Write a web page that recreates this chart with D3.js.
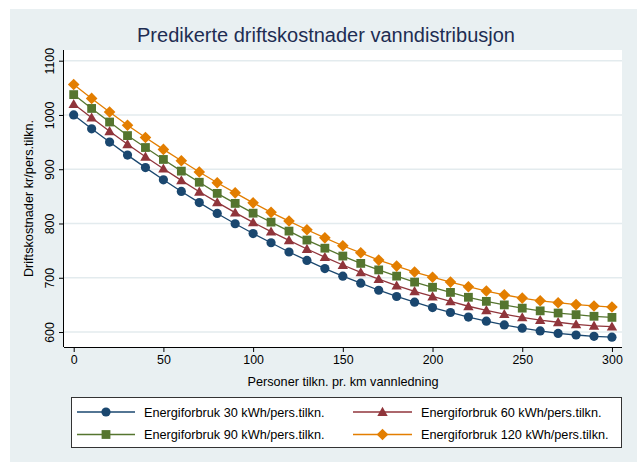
<!DOCTYPE html>
<html><head><meta charset="utf-8">
<script src="https://cdn.jsdelivr.net/npm/d3@7"></script>
<style>
html,body{margin:0;padding:0;background:#fff;}
svg{display:block;font-family:"Liberation Sans",Arial,Helvetica,sans-serif;}
</style></head>
<body>
<svg id="chart" width="637" height="462"></svg>
<script>
const xValues = [0,10,20,30,40,50,60,70,80,90,100,110,120,130,140,150,160,170,180,190,200,210,220,230,240,250,260,270,280,290,300];
const s30  = [1000,974.5,950,926,903,880.5,859,838.5,818.5,799.5,781.5,764.5,747.5,732,717,703,690,677,665.5,655,645,636,627.5,620,613,607,602,597.5,594.5,592,590.5];
const s60  = [1020,995,970,946,923,901,879.5,858.5,839,820,802,785,769,753,738,723.5,710,697.5,685.5,675,665.5,656.5,647.5,640,633,627,622,618,614,611.5,610];
const s90  = [1037.5,1012,987,962,940,918,896.5,876,855.5,837,819,802.5,786,769.5,754.5,740,726.5,714.5,703,692,682.5,673,664,656.5,650,644,639,635,632,629,627];
const s120 = [1056,1030.5,1005.5,981,958.5,936.5,915.5,895,875,856.5,838,820.5,804.5,788.5,773.5,759,746,732.5,721.5,710.5,701,692,683.5,675.5,668.5,662.5,657.5,654,650.5,648,646];
const seriesNames = ["Energiforbruk 30 kWh/pers.tilkn.","Energiforbruk 60 kWh/pers.tilkn.","Energiforbruk 90 kWh/pers.tilkn.","Energiforbruk 120 kWh/pers.tilkn."];
const xTicks = [0,50,100,150,200,250,300];
const yTicks = [600,700,800,900,1000,1100];
const titleText = "Predikerte driftskostnader vanndistribusjon";
const xTitle = "Personer tilkn. pr. km vannledning";
const yTitle = "Driftskostnader kr/pers.tilkn.";

const colors = ["#1a476f","#90353b","#55752f","#e37e00"];
const shapes = ["circle","triangle","square","diamond"];
const seriesData = [s30,s60,s90,s120];

const svg = d3.select("#chart");
const bg = "#e9f0f2";
svg.append("rect").attr("x",10).attr("y",9).attr("width",627).attr("height",453).attr("fill",bg);

const plot = {l:64, r:622, t:50, b:347};
svg.append("rect").attr("x",plot.l).attr("y",plot.t).attr("width",plot.r-plot.l).attr("height",plot.b-plot.t).attr("fill","#fff");

const x = d3.scaleLinear().domain([-5.4,305.6]).range([plot.l,plot.r]);
const y = d3.scaleLinear().domain([572.4,1119.7]).range([plot.b,plot.t]);

// gridlines
svg.append("g").selectAll("line").data(yTicks).join("line")
  .attr("x1",plot.l).attr("x2",plot.r)
  .attr("y1",d=>y(d)).attr("y2",d=>y(d))
  .attr("stroke","#e3ebee").attr("stroke-width",1.5);

const tickFont = 12.4, labFont = 12.7;

// axes
const xAxis = d3.axisBottom(x).tickValues(xTicks).tickFormat(d3.format("d")).tickSize(5).tickPadding(3);
const gx = svg.append("g").attr("transform",`translate(0,${plot.b})`).call(xAxis);
gx.select(".domain").attr("d",`M${plot.l},0.5H${plot.r}`).attr("stroke","#000");
gx.selectAll("text").attr("font-size",tickFont).attr("font-family","Liberation Sans, Arial, sans-serif").attr("fill","#000");

const yAxis = d3.axisLeft(y).tickValues(yTicks).tickFormat(d3.format("d")).tickSize(5).tickPadding(3);
const gy = svg.append("g").attr("transform",`translate(${plot.l},0)`).call(yAxis);
gy.select(".domain").attr("d",`M-0.5,${plot.t}V${plot.b}`).attr("stroke","#000");
gy.selectAll("text")
  .attr("font-size",tickFont).attr("font-family","Liberation Sans, Arial, sans-serif").attr("fill","#000")
  .attr("x",0).attr("y",0).attr("dy",null)
  .attr("text-anchor","middle")
  .attr("transform","translate(-10.5,0) rotate(-90)");

// titles
svg.append("text").attr("x",326).attr("y",42).attr("text-anchor","middle")
  .attr("font-size",20).attr("fill","#1e2d52").text(titleText);
svg.append("text").attr("x",(plot.l+plot.r)/2).attr("y",386).attr("text-anchor","middle")
  .attr("font-size",labFont).attr("fill","#000").text(xTitle);
svg.append("text").attr("transform",`translate(33,${(plot.t+plot.b)/2}) rotate(-90)`).attr("text-anchor","middle")
  .attr("font-size",labFont).attr("fill","#000").text(yTitle);

function markerPath(shape){
  if(shape==="circle") return d3.symbol(d3.symbolCircle, Math.PI*4.6*4.6)();
  if(shape==="square"){const h=4.4;return `M${-h},${-h}H${h}V${h}H${-h}Z`;}
  if(shape==="triangle"){const w=5.2,t=5.2,b=3.9;return `M0,${-t}L${w},${b}L${-w},${b}Z`;}
  if(shape==="diamond"){const h=5.8;return `M0,${-h}L${h},0L0,${h}L${-h},0Z`;}
}

const line = d3.line().x((d,i)=>x(xValues[i])).y(d=>y(d));
seriesData.forEach((vals,si)=>{
  const g = svg.append("g");
  g.append("path").attr("d",line(vals)).attr("fill","none").attr("stroke",colors[si]).attr("stroke-width",1.3);
  g.selectAll("path.m").data(vals).join("path").attr("class","m")
    .attr("transform",(d,i)=>`translate(${x(xValues[i])},${y(d)})`)
    .attr("d",markerPath(shapes[si])).attr("fill",colors[si]);
});

// legend
const lg = svg.append("g");
lg.append("rect").attr("x",71.5).attr("y",397.5).attr("width",550).attr("height",50).attr("fill","#fff").attr("stroke","#333").attr("stroke-width",1);
const cols = [{l0:77,l1:135,tx:144},{l0:353,l1:412,tx:421}];
const rows = [412,434.5];
const order = [0,1,2,3];
order.forEach((si,k)=>{
  const c = cols[k%2], ry = rows[Math.floor(k/2)];
  lg.append("line").attr("x1",c.l0).attr("x2",c.l1).attr("y1",ry).attr("y2",ry).attr("stroke",colors[si]).attr("stroke-width",1.3);
  lg.append("path").attr("transform",`translate(${(c.l0+c.l1)/2},${ry})`).attr("d",markerPath(shapes[si])).attr("fill",colors[si]);
  lg.append("text").attr("x",c.tx).attr("y",ry+4.5).attr("font-size",labFont).attr("fill","#000").text(seriesNames[si]);
});
</script>
</body></html>
